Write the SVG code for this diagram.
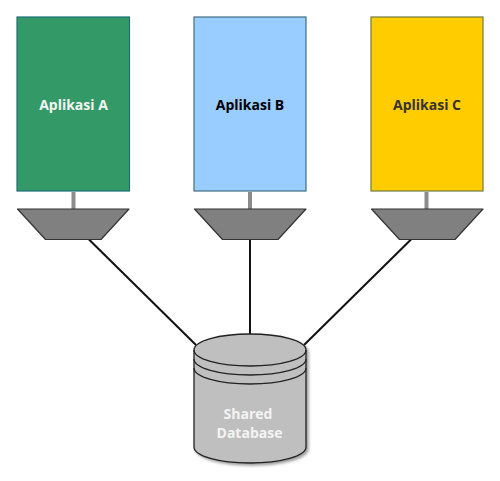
<svg xmlns="http://www.w3.org/2000/svg" width="500" height="481" viewBox="0 0 500 481">
<defs>
<filter id="sh" x="-10%" y="-10%" width="125%" height="125%"><feGaussianBlur in="SourceAlpha" stdDeviation="1.5"/><feOffset dx="2" dy="2"/><feComponentTransfer><feFuncA type="linear" slope="0.4"/></feComponentTransfer><feMerge><feMergeNode/><feMergeNode in="SourceGraphic"/></feMerge></filter>
</defs>
<style>
text{font-family:"Open Sans","Noto Sans",sans-serif;font-weight:700;font-size:14px;text-anchor:middle}
.box{stroke-width:1.2}
.stem{stroke:#8c8c8c;stroke-width:4;fill:none}
.trap{fill:#808080;stroke:#333;stroke-width:1.2;stroke-linejoin:round}
.conn{stroke:#111;stroke-width:2;fill:none}
.cyl{fill:#bfbfbf;stroke:#222;stroke-width:1.3}
.arc{fill:none;stroke:#222;stroke-width:1.3}
</style>
<g id="connectors">
<line class="stem" x1="73.500" y1="192" x2="73.500" y2="209"/>
<line class="stem" x1="250" y1="192" x2="250" y2="209"/>
<line class="stem" x1="426.500" y1="192" x2="426.500" y2="209"/>
<line class="conn" x1="88.500" y1="239" x2="196" y2="345"/>
<line class="conn" x1="250" y1="239" x2="250" y2="334"/>
<line class="conn" x1="411.500" y1="239" x2="304" y2="345"/>
</g>
<g id="app-a"><rect class="box" x="17" y="17" width="112.500" height="174" fill="#339966" stroke="#1f6f78"/><text x="73.500" y="110" fill="#f4f4f4">Aplikasi A</text></g>
<g id="app-b"><rect class="box" x="194" y="17" width="112" height="174" fill="#99ccff" stroke="#3f6f80"/><text x="250" y="110" fill="#000">Aplikasi B</text></g>
<g id="app-c"><rect class="box" x="371" y="17" width="112" height="174" fill="#ffcc00" stroke="#6f7a40"/><text x="427" y="110" fill="#333">Aplikasi C</text></g>
<g id="trap-a"><polygon class="trap" points="17.500,209 129,209 101,239.500 45.500,239.500"/></g>
<g id="trap-b"><polygon class="trap" points="194.500,209 306,209 278,239.500 222.500,239.500"/></g>
<g id="trap-c"><polygon class="trap" points="371.500,209 483,209 455,239.500 399.500,239.500"/></g>
<g id="database">
<path class="cyl" filter="url(#sh)" d="M194 350C194 341 219 334 250 334C281 334 306 341 306 350V447C306 456 281 463 250 463C219 463 194 456 194 447Z"/>
<path class="arc" d="M194 350C194 359 219 366 250 366C281 366 306 359 306 350M194 359C194 368 219 375 250 375C281 375 306 368 306 359M194 368C194 377 219 384 250 384C281 384 306 377 306 368"/>
<text x="248" y="419" fill="#f4f4f4">Shared</text>
<text x="249.500" y="438" fill="#f4f4f4">Database</text>
</g>
</svg>
